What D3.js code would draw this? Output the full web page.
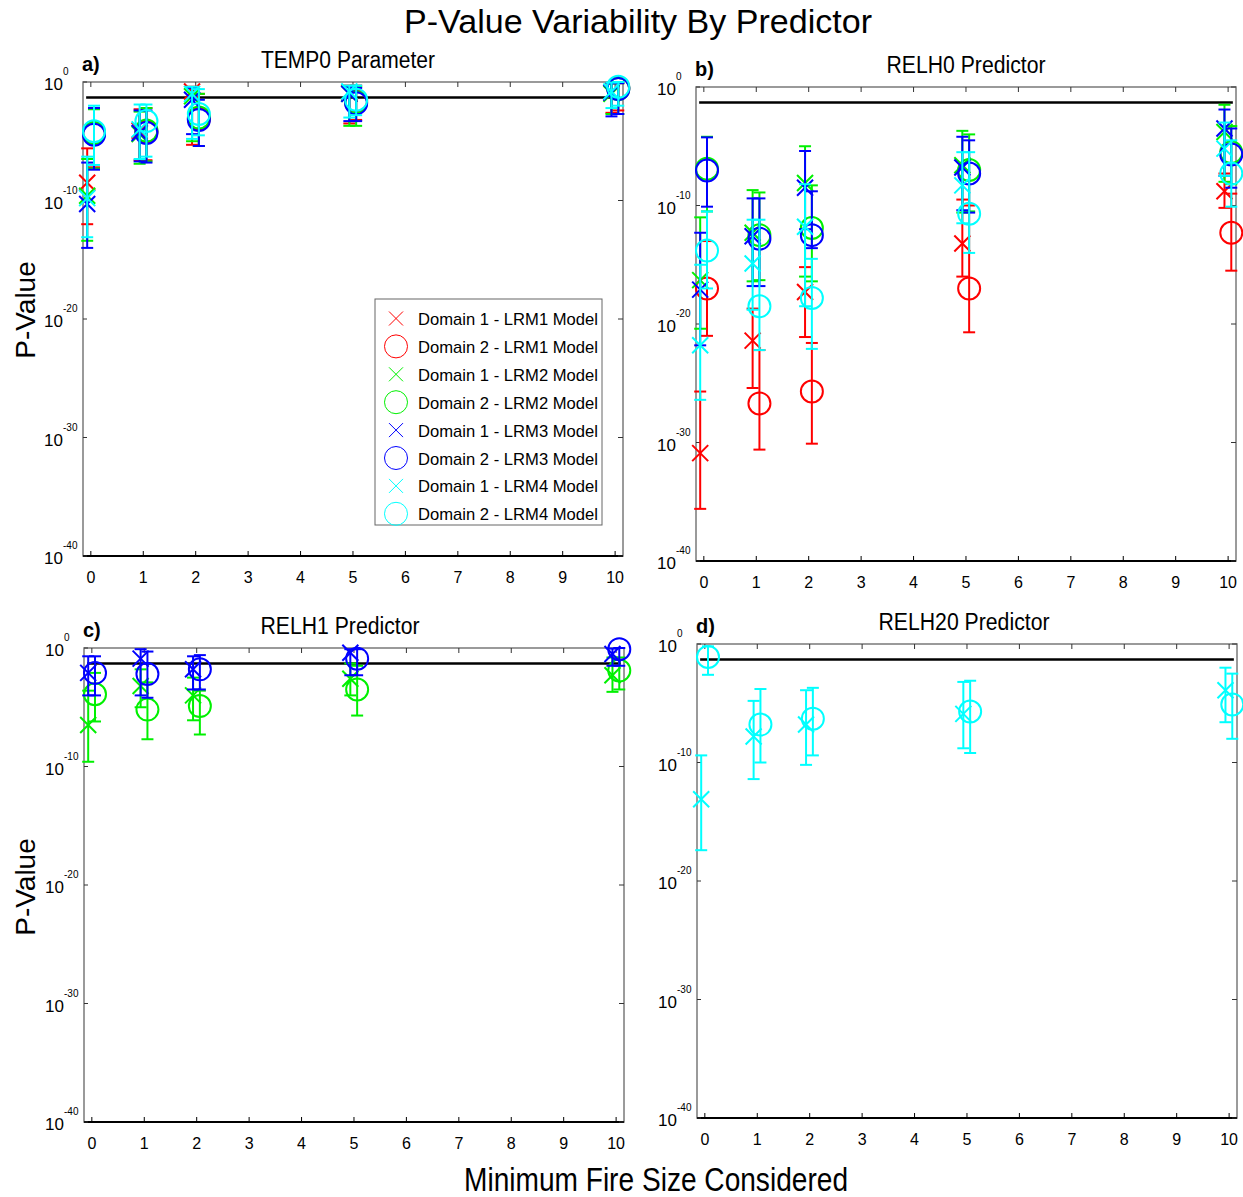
<!DOCTYPE html>
<html>
<head>
<meta charset="utf-8">
<script src="https://cdn.jsdelivr.net/npm/d3@7"></script>
<style>
  html, body { margin: 0; padding: 0; background: #fff; }
  text { font-family: "Liberation Sans", Arial, sans-serif; }
</style>
</head>
<body>
<svg id="chart" width="1243" height="1197"></svg>
<script>
// x positions (minimum fire size) and tick labels
const fireSizes = [0, 1, 2, 5, 10];
const xTicks = [0, 1, 2, 3, 4, 5, 6, 7, 8, 9, 10];
const yTickExps = [0, -10, -20, -30, -40];
const models = ['LRM1', 'LRM2', 'LRM3', 'LRM4'];
const modelColors = ['#ff0000', '#00f000', '#0000ff', '#00ffff'];
const pThreshold = 0.05;

// each row: [domain, model, log10(p) centre, log10 upper bar end, log10 lower bar end]
const temp0 = [
  [1, 'LRM1', [-8.5, -4.1, -0.8, -0.9, -0.9], [-5.6, -2.3, -0.4, -0.3, -0.1], [-12.0, -6.6, -5.3, -3.5, -2.6]],
  [2, 'LRM1', [-4.3, -4.2, -3.1, -1.6, -0.5], [-2.2, -2.2, -1.0, -0.3, -0.1], [-7.2, -6.6, -5.4, -3.2, -2.4]],
  [1, 'LRM2', [-9.6, -4.4, -1.2, -1.0, -1.0], [-6.5, -2.5, -0.5, -0.4, -0.1], [-13.4, -6.9, -5.0, -3.7, -2.7]],
  [2, 'LRM2', [-4.3, -4.1, -3.0, -1.7, -0.6], [-2.3, -2.2, -1.0, -0.4, -0.1], [-7.3, -6.7, -5.4, -3.7, -2.7]],
  [1, 'LRM3', [-10.3, -4.3, -1.5, -1.0, -0.9], [-6.8, -2.4, -0.5, -0.4, -0.1], [-14.0, -6.7, -4.4, -3.3, -2.9]],
  [2, 'LRM3', [-4.45, -4.3, -3.2, -1.8, -0.6], [-2.2, -2.4, -1.5, -0.5, -0.1], [-7.4, -6.8, -5.4, -3.3, -2.7]],
  [1, 'LRM4', [-9.8, -4.0, -1.0, -0.8, -0.8], [-6.3, -1.9, -0.4, -0.3, -0.05], [-13.1, -6.5, -4.8, -3.0, -2.2]],
  [2, 'LRM4', [-4.15, -3.3, -2.7, -1.5, -0.4], [-2.0, -1.9, -0.6, -0.3, 0.0], [-7.0, -6.3, -4.5, -2.8, -2.0]]
];

const relh0 = [
  [1, 'LRM1', [-30.9, -21.4, -17.3, -13.2, -8.8], [-25.7, -18.7, -15.2, -9.5, -7.3], [-35.6, -25.4, -21.1, -16.0, -10.2]],
  [2, 'LRM1', [-17.0, -26.7, -25.7, -17.0, -12.3], [-13.0, -22.2, -21.6, -10.0, -9.0], [-21.0, -30.6, -30.1, -20.7, -15.5]],
  [1, 'LRM2', [-16.3, -12.3, -8.1, -6.6, -3.8], [-11.0, -8.7, -5.0, -3.7, -1.5], [-20.4, -16.4, -16.0, -10.6, -8.0]],
  [2, 'LRM2', [-6.9, -12.5, -11.9, -7.0, -5.5], [-4.2, -8.9, -8.3, -4.0, -3.3], [-10.5, -16.3, -16.4, -10.5, -8.2]],
  [1, 'LRM3', [-17.1, -12.6, -8.5, -6.8, -3.5], [-12.3, -9.4, -5.4, -4.2, -1.9], [-21.8, -16.8, -12.0, -10.4, -7.5]],
  [2, 'LRM3', [-7.05, -12.8, -12.5, -7.3, -5.7], [-4.25, -9.4, -8.8, -4.5, -3.5], [-10.1, -16.8, -13.6, -10.6, -8.5]],
  [1, 'LRM4', [-21.8, -14.9, -11.8, -8.3, -5.2], [-15.0, -11.2, -8.2, -5.5, -3.0], [-26.4, -18.8, -18.5, -11.5, -7.5]],
  [2, 'LRM4', [-13.8, -18.5, -17.8, -10.7, -7.3], [-10.5, -11.2, -14.5, -5.5, -4.5], [-17.0, -22.2, -22.1, -14.0, -10.1]]
];

const relh1 = [
  [1, 'LRM2', [-6.5, -3.2, -4.0, -2.6, -2.3], [-3.6, -1.8, -2.5, -1.3, -0.8], [-9.6, -5.0, -6.1, -4.0, -3.7]],
  [2, 'LRM2', [-3.9, -5.2, -4.9, -3.5, -1.9], [-2.1, -2.9, -3.6, -1.5, -0.8], [-6.2, -7.7, -7.3, -5.7, -3.5]],
  [1, 'LRM3', [-2.1, -0.9, -1.8, -0.4, -0.5], [-0.7, -0.1, -0.7, -0.1, -0.05], [-4.0, -4.0, -3.5, -2.3, -1.5]],
  [2, 'LRM3', [-2.1, -2.2, -1.8, -0.9, -0.1], [-0.7, -0.3, -0.6, -0.1, 0.0], [-4.0, -4.2, -3.5, -2.3, -1.5]]
];

const relh20 = [
  [1, 'LRM4', [-13.1, -7.8, -6.8, -5.9, -3.9], [-9.4, -4.8, -3.9, -3.2, -2.0], [-17.4, -11.4, -10.2, -8.8, -6.6]],
  [2, 'LRM4', [-1.1, -6.8, -6.3, -5.7, -5.1], [-0.2, -3.8, -3.7, -3.1, -2.5], [-2.6, -10.0, -9.4, -9.2, -8.0]]
];

const panels = [
  {letter: 'a)', title: 'TEMP0 Parameter', rows: temp0, left: 83, top: 82, titleX: 348, titleLen: 174, legend: true},
  {letter: 'b)', title: 'RELH0 Predictor', rows: relh0, left: 696, top: 87, titleX: 966, titleLen: 159},
  {letter: 'c)', title: 'RELH1 Predictor', rows: relh1, left: 84, top: 648, titleX: 340, titleLen: 159},
  {letter: 'd)', title: 'RELH20 Predictor', rows: relh20, left: 697, top: 644, titleX: 964, titleLen: 171}
];

const pw = 540, ph = 474;
const svg = d3.select('#chart');

function crossPath(s) {
  return `M${-s},${-s}L${s},${s}M${-s},${s}L${s},${-s}`;
}

function drawMarker(g, domain, color, sw, cs, cr) {
  if (domain === 1) {
    g.append('path').attr('d', crossPath(cs)).attr('fill', 'none')
      .attr('stroke', color).attr('stroke-width', sw);
  } else {
    g.append('circle').attr('r', cr).attr('fill', 'none')
      .attr('stroke', color).attr('stroke-width', sw);
  }
}

panels.forEach(p => {
  const x = d3.scaleLinear().domain([-0.14, 10.16]).range([p.left, p.left + pw]);
  const y = d3.scaleLog().domain([1e-40, 1]).range([p.top + ph, p.top]);
  const g = svg.append('g');

  // frame
  g.append('rect').attr('x', p.left).attr('y', p.top).attr('width', pw).attr('height', ph)
    .attr('fill', 'none').attr('stroke', '#7a7a7a').attr('stroke-width', 1.5);
  g.append('line').attr('x1', p.left).attr('x2', p.left + pw)
    .attr('y1', p.top + ph).attr('y2', p.top + ph).attr('stroke', '#000').attr('stroke-width', 2);

  // x ticks (inward, top and bottom) and labels
  const bottomAxis = d3.axisBottom(x).tickValues(xTicks).tickSize(-5).tickPadding(12).tickFormat(d3.format('d'));
  const ax = g.append('g').attr('transform', `translate(0,${p.top + ph})`).call(bottomAxis);
  ax.select('.domain').remove();
  ax.selectAll('.tick line').attr('stroke', '#000');
  ax.selectAll('.tick text').attr('font-size', 16).attr('dy', 0).attr('y', 27)
    .attr('font-family', '"Liberation Sans", Arial, sans-serif').attr('fill', '#000');
  const topAxis = d3.axisTop(x).tickValues(xTicks).tickSize(-5).tickFormat('');
  const at = g.append('g').attr('transform', `translate(0,${p.top})`).call(topAxis);
  at.select('.domain').remove();
  at.selectAll('.tick line').attr('stroke', '#333');

  // y ticks (inward, left and right)
  yTickExps.forEach(e => {
    const yy = y(Math.pow(10, e));
    g.append('line').attr('x1', p.left).attr('x2', p.left + 4).attr('y1', yy).attr('y2', yy).attr('stroke', '#333');
    g.append('line').attr('x1', p.left + pw - 5).attr('x2', p.left + pw).attr('y1', yy).attr('y2', yy).attr('stroke', '#333');
    g.append('text').attr('x', p.left - 20).attr('y', yy + 8).attr('text-anchor', 'end')
      .attr('font-size', 17).text('10');
    g.append('text').attr('x', p.left - 20).attr('y', yy - 7).attr('text-anchor', 'start')
      .attr('font-size', 10).text(e === 0 ? '0' : String(e));
  });

  // significance threshold
  g.append('line').attr('x1', x(-0.08)).attr('x2', x(10.1))
    .attr('y1', y(pThreshold)).attr('y2', y(pThreshold))
    .attr('stroke', '#000').attr('stroke-width', 2.5);

  // error bars and markers
  p.rows.forEach(r => {
    const [domain, model, mid, up, lo] = r;
    const color = modelColors[models.indexOf(model)];
    const off = domain === 1 ? -0.06 : 0.07;
    fireSizes.forEach((fs, i) => {
      const cx = x(fs + off);
      const yU = y(Math.pow(10, up[i])), yL = y(Math.pow(10, lo[i]));
      const bar = g.append('g').attr('stroke', color).attr('stroke-width', 2).attr('fill', 'none');
      bar.append('line').attr('x1', cx).attr('x2', cx).attr('y1', yU).attr('y2', yL);
      bar.append('line').attr('x1', cx - 6).attr('x2', cx + 6).attr('y1', yU).attr('y2', yU);
      bar.append('line').attr('x1', cx - 6).attr('x2', cx + 6).attr('y1', yL).attr('y2', yL);
      const m = g.append('g').attr('transform', `translate(${cx},${y(Math.pow(10, mid[i]))})`);
      drawMarker(m, domain, color, 2, 8, 11);
    });
  });

  // titles
  svg.append('text').attr('x', p.titleX).attr('y', p.top - 14).attr('text-anchor', 'middle')
    .attr('font-size', 23).attr('textLength', p.titleLen).attr('lengthAdjust', 'spacingAndGlyphs')
    .text(p.title);
  svg.append('text').attr('x', p.left - 1).attr('y', p.top - 11)
    .attr('font-size', 20).attr('font-weight', 'bold').text(p.letter);

  if (p.legend) {
    const lg = svg.append('g').attr('transform', 'translate(375,299)');
    lg.append('rect').attr('width', 227).attr('height', 226).attr('fill', '#fff')
      .attr('stroke', '#666').attr('stroke-width', 1);
    const items = [];
    models.forEach(mname => { items.push([1, mname]); items.push([2, mname]); });
    items.forEach((it, i) => {
      const cy = 19.5 + i * 27.9;
      const row = lg.append('g').attr('transform', `translate(0,${cy})`);
      const mk = row.append('g').attr('transform', 'translate(21,0)');
      drawMarker(mk, it[0], modelColors[models.indexOf(it[1])], 1, 7, 11.5);
      row.append('text').attr('x', 43).attr('y', 6.5).attr('font-size', 17)
        .attr('textLength', 180).attr('lengthAdjust', 'spacingAndGlyphs')
        .text(`Domain ${it[0]} - ${it[1]} Model`);
    });
  }
});

// figure-level labels
svg.append('text').attr('x', 638).attr('y', 33).attr('text-anchor', 'middle')
  .attr('font-size', 33).attr('textLength', 468).attr('lengthAdjust', 'spacingAndGlyphs')
  .text('P-Value Variability By Predictor');
svg.append('text').attr('x', 656).attr('y', 1191).attr('text-anchor', 'middle')
  .attr('font-size', 33).attr('textLength', 384).attr('lengthAdjust', 'spacingAndGlyphs')
  .text('Minimum Fire Size Considered');
[310, 887].forEach(cy => {
  svg.append('text').attr('transform', `translate(35,${cy}) rotate(-90)`).attr('text-anchor', 'middle')
    .attr('font-family', '"DejaVu Sans", sans-serif').attr('font-size', 28).text('P-Value');
});
</script>
</body>
</html>
